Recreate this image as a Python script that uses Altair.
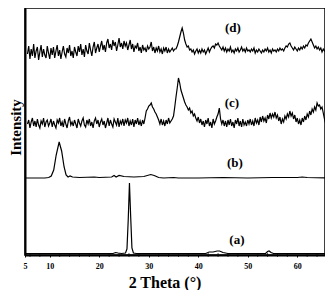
import altair as alt
import pandas as pd

# ---- data (2 theta in degrees, intensity in arbitrary stacked units) ----
angles_a = [5.2, 22.8, 23.3, 23.8, 24.5, 25.3, 25.6, 25.85, 26.1, 26.35, 26.6, 26.9, 27.5,
            41.5, 42.2, 43.0, 43.8, 44.3, 45.0, 46.0, 53.6, 54.0, 54.3, 54.7, 55.2, 66.4]
int_a = [1.5, 1.5, 2.5, 2, 1.5, 2, 6, 35, 72, 38, 7, 2, 1.5,
         1.5, 3, 3, 4, 4, 2.5, 1.5, 1.5, 3.5, 4, 2.5, 1.5, 1.5]

angles_b = [5.2, 9.0, 9.8, 10.3, 10.8, 11.3, 11.9, 12.4, 12.9, 13.3, 13.7, 14.1, 14.6, 16.0,
            19.0, 20.0, 22.5, 23.0, 23.4, 24.0, 25.0, 27.0, 29.0, 30.4, 31.1, 32.0, 33.0,
            35.0, 36.0, 40.0, 45.0, 50.0, 55.0, 60.0, 61.0, 62.0, 66.4]
int_b = [77, 77, 77.5, 79, 85, 100, 113, 104, 88, 80, 78, 79, 78, 77.5,
         78, 77.5, 78, 79.5, 78, 79.5, 78.5, 78, 78.5, 80.5, 79.5, 77.5, 77,
         77.5, 77, 77, 77.5, 77, 77.5, 77.5, 78, 77.5, 77]

angles_cd = [
    5.5, 5.75, 6.0, 6.25, 6.5, 6.75, 7.0, 7.25, 7.5, 7.75, 8.0, 8.25, 8.5, 8.75, 9.0, 9.25, 9.5, 9.75, 10.0, 10.25,
    10.5, 10.75, 11.0, 11.25, 11.5, 11.75, 12.0, 12.25, 12.5, 12.75, 13.0, 13.25, 13.5, 13.75, 14.0, 14.25, 14.5, 14.75, 15.0, 15.25,
    15.5, 15.75, 16.0, 16.25, 16.5, 16.75, 17.0, 17.25, 17.5, 17.75, 18.0, 18.25, 18.5, 18.75, 19.0, 19.25, 19.5, 19.75, 20.0, 20.25,
    20.5, 20.75, 21.0, 21.25, 21.5, 21.75, 22.0, 22.25, 22.5, 22.75, 23.0, 23.25, 23.5, 23.75, 24.0, 24.25, 24.5, 24.75, 25.0, 25.25,
    25.5, 25.75, 26.0, 26.25, 26.5, 26.75, 27.0, 27.25, 27.5, 27.75, 28.0, 28.25, 28.5, 28.75, 29.0, 29.25, 29.5, 29.75, 30.0, 30.25,
    30.5, 30.75, 31.0, 31.25, 31.5, 31.75, 32.0, 32.25, 32.5, 32.75, 33.0, 33.25, 33.5, 33.75, 34.0, 34.25, 34.5, 34.75, 35.0, 35.25,
    35.5, 35.75, 36.0, 36.25, 36.5, 36.75, 37.0, 37.25, 37.5, 37.75, 38.0, 38.25, 38.5, 38.75, 39.0, 39.25, 39.5, 39.75, 40.0, 40.25,
    40.5, 40.75, 41.0, 41.25, 41.5, 41.75, 42.0, 42.25, 42.5, 42.75, 43.0, 43.25, 43.5, 43.75, 44.0, 44.25, 44.5, 44.75, 45.0, 45.25,
    45.5, 45.75, 46.0, 46.25, 46.5, 46.75, 47.0, 47.25, 47.5, 47.75, 48.0, 48.25, 48.5, 48.75, 49.0, 49.25, 49.5, 49.75, 50.0, 50.25,
    50.5, 50.75, 51.0, 51.25, 51.5, 51.75, 52.0, 52.25, 52.5, 52.75, 53.0, 53.25, 53.5, 53.75, 54.0, 54.25, 54.5, 54.75, 55.0, 55.25,
    55.5, 55.75, 56.0, 56.25, 56.5, 56.75, 57.0, 57.25, 57.5, 57.75, 58.0, 58.25, 58.5, 58.75, 59.0, 59.25, 59.5, 59.75, 60.0, 60.25,
    60.5, 60.75, 61.0, 61.25, 61.5, 61.75, 62.0, 62.25, 62.5, 62.75, 63.0, 63.25, 63.5, 63.75, 64.0, 64.25, 64.5, 64.75, 65.0, 65.25,
    65.5, 65.75, 66.0,
]

int_c = [
    131, 135, 127, 133, 137, 129, 134, 128, 136, 130, 127, 134, 131, 137, 128, 133, 135, 129, 132, 136,
    128, 134, 130, 127, 135, 132, 137, 129, 133, 128, 136, 131, 127, 134, 138, 130, 133, 129, 135, 131,
    127, 136, 132, 129, 134, 137, 130, 128, 135, 131, 136, 129, 133, 127, 134, 137, 131, 135, 128, 133,
    136, 130, 134, 127, 132, 137, 129, 135, 131, 128, 136, 133, 130, 137, 128, 134, 131, 136, 129, 135,
    132, 137, 129, 134, 130, 136, 128, 135, 131, 137, 130, 134, 129, 135, 131, 137, 144, 146, 149, 150,
    152, 148, 146, 143, 141, 138, 135, 131, 136, 130, 134, 129, 135, 131, 137, 132, 134, 136, 139, 148,
    158, 167, 177, 172, 165, 161, 157, 153, 150, 148, 145, 147, 142, 144, 139, 141, 137, 134, 138, 132,
    136, 130, 134, 128, 135, 131, 137, 129, 133, 127, 136, 131, 134, 138, 141, 147, 136, 131, 135, 129,
    134, 128, 135, 130, 136, 129, 133, 127, 135, 131, 137, 129, 134, 128, 136, 130, 133, 129, 135, 131,
    136, 130, 134, 129, 137, 132, 135, 130, 138, 133, 139, 134, 137, 132, 140, 136, 142, 137, 141, 138,
    143, 137, 140, 134, 138, 131, 136, 133, 139, 136, 141, 138, 144, 139, 142, 136, 140, 133, 137, 131,
    135, 130, 137, 133, 139, 135, 141, 138, 144, 140, 146, 143, 148, 145, 152, 149, 150, 146, 148, 142,
    136, 131, 127,
]

int_d = [
    201, 209, 196, 206, 199, 211, 197, 204, 208, 195, 203, 210, 198, 206, 200, 197, 209, 202, 196, 207,
    200, 208, 197, 204, 210, 199, 205, 196, 203, 209, 201, 198, 207, 202, 210, 199, 204, 197, 208, 203,
    199, 209, 203, 211, 200, 206, 198, 210, 204, 201, 212, 205, 199, 208, 213, 202, 207, 211, 203, 209,
    214, 205, 210, 203, 212, 216, 207, 211, 205, 215, 209, 213, 204, 210, 217, 208, 212, 206, 214, 209,
    212, 205, 210, 215, 206, 211, 203, 209, 207, 212, 204, 208, 202, 210, 205, 207, 203, 209, 206, 208,
    213, 204, 208, 202, 207, 204, 209, 203, 206, 201, 207, 204, 208, 202, 206, 203, 205, 207, 204, 206,
    206, 209, 213, 218, 223, 227, 222, 215, 211, 208, 209, 205, 206, 203, 205, 201, 204, 206, 202, 205,
    202, 206, 203, 205, 201, 204, 207, 203, 206, 208, 209, 207, 211, 210, 212, 209, 207, 205, 208, 204,
    207, 203, 206, 204, 208, 203, 205, 202, 206, 204, 207, 203, 205, 208, 204, 206, 203, 207, 204, 205,
    203, 206, 204, 207, 202, 205, 203, 206, 204, 202, 205, 203, 206, 204, 207, 203, 205, 202, 206, 204,
    205, 203, 206, 204, 207, 205, 206, 204, 207, 209, 208, 211, 212, 209, 207, 205, 208, 206, 204, 207,
    205, 208, 206, 209, 207, 210, 209, 212, 214, 216, 213, 210, 207, 209, 206, 208, 205, 207, 203, 206,
    204, 206, 202,
]

series_labels = ["(a)", "(b)", "(c)", "(d)"]
label_x = [47.8, 47.4, 46.8, 47.0]
label_y = [15, 92, 152, 227]

label_values = [5, 10, 20, 30, 40, 50, 60]
minor_ticks = [6, 8, 12, 14, 16, 18, 22, 24, 26, 28, 32, 34, 36, 38, 42, 44, 46, 48,
               52, 54, 56, 58, 62, 64]

# ---- build tables ----
rows = []
for name, xs, ys in [("a", angles_a, int_a), ("b", angles_b, int_b),
                     ("c", angles_cd, int_c), ("d", angles_cd, int_d)]:
    assert len(xs) == len(ys), (name, len(xs), len(ys))
    for xv, yv in zip(xs, ys):
        rows.append({"theta": xv, "intensity": yv, "series": name})
df = pd.DataFrame(rows)
labels_df = pd.DataFrame({"label": series_labels, "theta": label_x, "intensity": label_y})
minor_df = pd.DataFrame({"theta": minor_ticks})

FONT = "Liberation Serif"

x_scale = alt.Scale(domain=[5, 65.6], nice=False, zero=False)
y_scale = alt.Scale(domain=[0, 247], nice=False, zero=False)

lines = alt.Chart(df).mark_line(color="black", strokeWidth=1.2, clip=True).encode(
    x=alt.X("theta:Q", scale=x_scale,
            axis=alt.Axis(title="2 Theta (°)", values=label_values,
                          labelOverlap=False, grid=False, tickSize=2, labelPadding=5,
                          labelFont=FONT, labelFontWeight="bold", labelFontSize=8,
                          labelColor="black", labelFlush=False,
                          titleFont=FONT, titleFontWeight="bold", titleFontSize=16,
                          titleColor="black", titleX=139.5, titleY=32,
                          titleBaseline="alphabetic", titleAlign="center",
                          domainColor="black", domainWidth=2, tickColor="black")),
    y=alt.Y("intensity:Q", scale=y_scale,
            axis=alt.Axis(title="Intensity", labels=False, ticks=False, grid=False,
                          titleFont=FONT, titleFontWeight="bold", titleFontSize=15,
                          titleColor="black", titleX=-5, titleY=119, titleAngle=270,
                          titleBaseline="alphabetic", titleAlign="center",
                          domainColor="black", domainWidth=2)),
    detail="series:N",
    order="theta:Q",
)

minor = alt.Chart(minor_df).mark_tick(color="black", size=4, thickness=1, orient="vertical").encode(
    x=alt.X("theta:Q", scale=x_scale),
    y=alt.datum(0, scale=y_scale),
)

texts = alt.Chart(labels_df).mark_text(font=FONT, fontWeight="bold", fontSize=13,
                                       color="black", baseline="middle", align="center").encode(
    x=alt.X("theta:Q", scale=x_scale),
    y=alt.Y("intensity:Q", scale=y_scale),
    text="label:N",
)

chart = alt.layer(lines, minor, texts).properties(
    width=300, height=247,
    autosize=alt.AutoSizeParams(type="none"),
    padding={"left": 17, "top": 0, "right": 0, "bottom": 35},
).configure_view(stroke="black", strokeWidth=1.5)

chart.save("out.html", embed_options={"renderer": "svg", "actions": False})
